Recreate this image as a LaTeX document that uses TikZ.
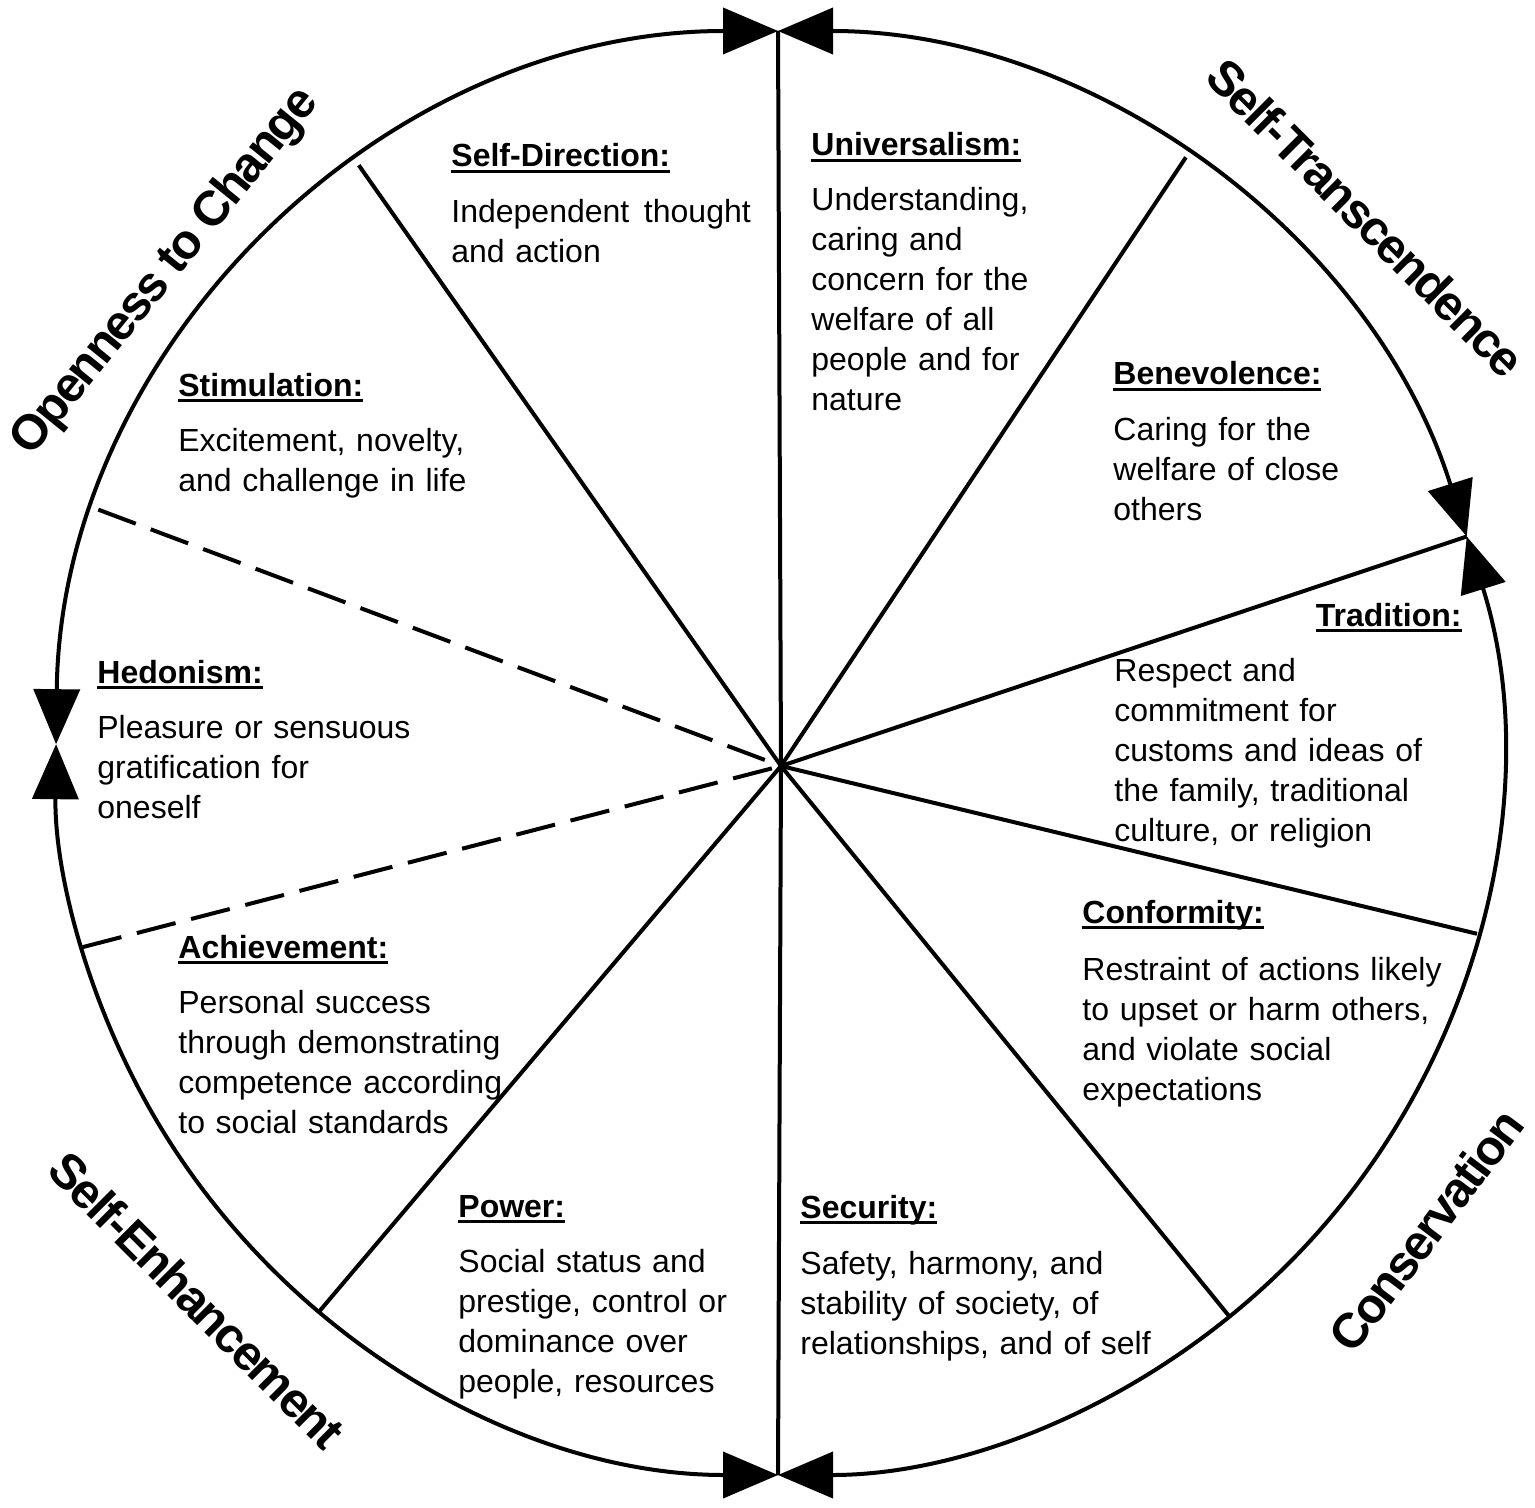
\documentclass[tikz,border=0pt]{standalone}
\usepackage{fontspec}
\setmainfont{Liberation Sans}
\usepackage{tikz}
\usetikzlibrary{arrows.meta}

\newsavebox{\vhbox}
\newcommand{\valhead}[1]{\sbox{\vhbox}{\bfseries #1}\rlap{\rule[-3pt]{\wd\vhbox}{1.3pt}}\usebox{\vhbox}}

\begin{document}
\begin{tikzpicture}[x=0.5pt,y=0.5pt,yscale=-1,xscale=1,
  spoke/.style={line width=2pt},
  spokedash/.style={line width=2pt,dash pattern=on 20pt off 8pt},
  ring/.style={line width=2pt,arrows={Triangle[length=27.5pt,width=23pt]-Triangle[length=27.5pt,width=23pt]}},
  vhead/.style={anchor=base west,inner sep=0pt,font=\fontsize{16}{20}\selectfont},
  vbody/.style={anchor=base west,inner sep=0pt,text width=200pt,align=left,font=\fontsize{16}{20}\selectfont},
  cat/.style={inner sep=0pt,font=\fontsize{24.5}{28}\selectfont\bfseries\addfontfeatures{LetterSpace=-4.5}}]
\useasboundingbox (0,0) rectangle (1535,1508);

%centre of the ring and meeting point of the spokes
\coordinate (C) at (778,753);
\coordinate (hub) at (781,766);

%points on the ring
\coordinate (sTop) at ([shift={(-90:722)}]C);
\coordinate (sUB) at ([shift={(-55.6:722)}]C);
\coordinate (sTB) at ([shift={(-17.45:722)}]C);
\coordinate (sCT) at ([shift={(14.5:722)}]C);
\coordinate (sSC) at ([shift={(51.3:722)}]C);
\coordinate (sBot) at ([shift={(90:722)}]C);
\coordinate (sAP) at ([shift={(129.4:722)}]C);
\coordinate (sHA) at ([shift={(164.4:722)}]C);
\coordinate (sSH) at ([shift={(199.7:722)}]C);
\coordinate (sDS) at ([shift={(234.5:722)}]C);
\coordinate (sLeft) at ([shift={(180.7:722)}]C);

%Arcs with arrows
\draw[ring] (sLeft) arc[start angle=180.7,end angle=270,radius=722];
\draw[ring] (sTop) arc[start angle=270,end angle=342.55,radius=722];
\draw[ring] (sTB) arc[start angle=342.55,end angle=450,radius=722];
\draw[ring] (sBot) arc[start angle=90,end angle=180.7,radius=722];

%Straight Lines
\draw[spoke] (hub) -- (sTop);
\draw[spoke] (hub) -- (sUB);
\draw[spoke] (hub) -- (sTB);
\draw[spoke] (hub) -- (sCT);
\draw[spoke] (hub) -- (sSC);
\draw[spoke] (hub) -- (sBot);
\draw[spoke] (hub) -- (sAP);
\draw[spoke] (hub) -- (sDS);
%Dashed Lines
\draw[spokedash] (sSH) -- (hub);
\draw[spokedash] (sHA) -- (hub);

% Text Node
\node[vhead] (sdH) at (451,167) {\valhead{Self-Direction:}};
\node[vbody] (sdB) at (451,223) {Independent\hspace{2pt} thought\\and action};
% Text Node
\node[vhead] (univH) at (811,156) {\valhead{Universalism:}};
\node[vbody] (univB) at (811,211) {Understanding,\\caring and\\concern for the\\welfare of all\\people and for\\nature};
% Text Node
\node[vhead] (benH) at (1113,385) {\valhead{Benevolence:}};
\node[vbody] (benB) at (1113,440) {Caring for the\\welfare of close\\others};
% Text Node
\node[vhead,anchor=base east] (tradH) at (1462,626) {\valhead{Tradition:}};
\node[vbody] (tradB) at (1114,681) {Respect and\\commitment for\\customs and ideas of\\the family, traditional\\culture, or religion};
% Text Node
\node[vhead] (confH) at (1082,923) {\valhead{Conformity:}};
\node[vbody] (confB) at (1082,980) {Restraint of actions likely\\to upset or harm others,\\and violate social\\expectations};
% Text Node
\node[vhead] (secH) at (800,1218) {\valhead{Security:}};
\node[vbody] (secB) at (800,1274) {Safety, harmony, and\\stability of society, of\\relationships, and of self};
% Text Node
\node[vhead] (powH) at (458,1217) {\valhead{Power:}};
\node[vbody] (powB) at (458,1272) {Social status and\\prestige, control or\\dominance over\\people, resources};
% Text Node
\node[vhead] (achH) at (178,958) {\valhead{Achievement:}};
\node[vbody] (achB) at (178,1013) {Personal success\\through demonstrating\\competence according\\to social standards};
% Text Node
\node[vhead] (hedH) at (97,683) {\valhead{Hedonism:}};
\node[vbody] (hedB) at (97,738) {Pleasure or sensuous\\gratification for\\oneself};
% Text Node
\node[vhead] (stimH) at (178,396) {\valhead{Stimulation:}};
\node[vbody] (stimB) at (178,451) {Excitement, novelty,\\and challenge in life};

% Higher order values
\node[cat,rotate=51] (openL) at (166,272) {Openness to Change};
\node[cat,rotate=-45] (transL) at (1366,218) {Self-Transcendence};
\node[cat,rotate=53] (consL) at (1426,1230) {Conservation};
\node[cat,rotate=-45] (enhL) at (197,1300) {Self-Enhancement};

\end{tikzpicture}
\end{document}
